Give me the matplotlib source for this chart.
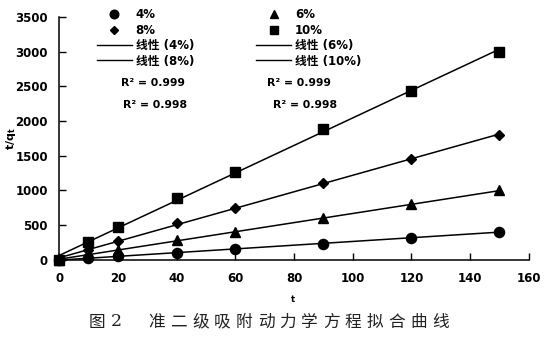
"""Pseudo-second-order adsorption kinetics: t/q_t versus t with linear fits."""

import matplotlib

matplotlib.use("Agg")
import matplotlib.pyplot as plt
import numpy as np
from matplotlib.lines import Line2D

plt.rcParams["font.family"] = ["DejaVu Sans", "Noto Sans CJK SC"]

# Contact time (min)
t = [0, 10, 20, 40, 60, 90, 120, 150]

# t/q_t for each dosage
tq_4 = [0, 30, 50, 100, 155, 235, 320, 405]
tq_6 = [0, 90, 140, 280, 400, 600, 800, 1000]
tq_8 = [0, 150, 275, 530, 745, 1110, 1455, 1800]
tq_10 = [0, 265, 470, 890, 1270, 1890, 2430, 3000]

series_labels = ["4%", "6%", "8%", "10%"]
r2_labels = ["R² = 0.999", "R² = 0.998", "R² = 0.999", "R² = 0.998"]

x_ticks = [0, 20, 40, 60, 80, 100, 120, 140, 160]
y_ticks = [0, 500, 1000, 1500, 2000, 2500, 3000, 3500]
caption = "准二级吸附动力学方程拟合曲线"

fig = plt.figure(figsize=(5.52, 3.38), dpi=100)
ax = fig.add_axes([0.107, 0.231, 0.851, 0.719])

markers = {"4%": ("o", 7.3), "6%": ("^", 7.5), "8%": ("D", 5.0), "10%": ("s", 7.0)}
data = {"4%": tq_4, "6%": tq_6, "8%": tq_8, "10%": tq_10}

t_arr = np.array(t, dtype=float)
for name in series_labels:
    y = np.array(data[name], dtype=float)
    slope, icpt = np.polyfit(t_arr, y, 1)
    xs = np.array([t[0], t[-1]], dtype=float)
    ax.plot(xs, slope * xs + icpt, color="black", lw=1.1, zorder=2, clip_on=False)
    mk, ms = markers[name]
    ax.plot(t, y, ls="none", marker=mk, ms=ms, color="black", zorder=3, clip_on=False)

ax.set_xlim(0, 160)
ax.set_ylim(0, 3500)
ax.set_xticks(x_ticks)
ax.set_yticks(y_ticks)
for side in ("top", "right"):
    ax.spines[side].set_visible(False)
for side in ("left", "bottom"):
    ax.spines[side].set_linewidth(1.1)
ax.tick_params(direction="in", length=5, width=1.0, labelsize=8.5, pad=9)
ax.tick_params(axis="y", pad=8)
for lbl in ax.get_xticklabels() + ax.get_yticklabels():
    lbl.set_fontweight("bold")

ax.set_xlabel("t", fontsize=6, fontweight="bold")
ax.set_ylabel("t/q$_\\mathregular{t}$", fontsize=8, fontweight="bold")
ax.xaxis.set_label_coords(0.498, -0.143)
ax.yaxis.set_label_coords(-0.088, 0.5)


# Legend: markers and fit lines in two columns
def marker_handle(name):
    mk, ms = markers[name]
    return Line2D([], [], ls="none", marker=mk, ms=ms * 0.85, color="black")


def line_handle():
    return Line2D([], [], color="black", lw=1.0)


handles = [
    marker_handle("4%"), marker_handle("8%"), line_handle(), line_handle(),
    marker_handle("6%"), marker_handle("10%"), line_handle(), line_handle(),
]
labels = [
    "4%", "8%", "线性 (4%)", "线性 (8%)",
    "6%", "10%", "线性 (6%)", "线性 (10%)",
]
ax.legend(
    handles, labels, ncol=2, frameon=False, loc="upper left",
    bbox_to_anchor=(0.070, 1.054), handlelength=3.0,
    handletextpad=0.3, columnspacing=5.25, labelspacing=0.2,
    borderaxespad=0.0, prop={"size": 8.5, "weight": "bold"},
)

# Goodness of fit for each trendline
r2_pos = [(153, 83), (155, 105), (299, 83), (305, 105)]
for txt, (px, py) in zip(r2_labels, r2_pos):
    fig.text(px / 552, 1 - py / 338, txt, ha="center", va="center",
             fontsize=7.8, fontweight="bold")

# Figure caption
cap_font = ["Noto Sans CJK SC", "DejaVu Sans"]
fig.text(96.5 / 552, 1 - 322 / 338, "图", ha="center", va="center",
         fontsize=12, family=cap_font, fontweight="light", color="#222222")
fig.text(116 / 552, 1 - 322 / 338, "2", ha="center", va="center",
         fontsize=12.5, family="DejaVu Serif", color="#222222")
for i, ch in enumerate(caption):
    cx = 157 + i * 21.8
    fig.text(cx / 552, 1 - 322 / 338, ch, ha="center", va="center",
             fontsize=12, family=cap_font, fontweight="light", color="#222222")

fig.savefig("out.png", dpi=100)
